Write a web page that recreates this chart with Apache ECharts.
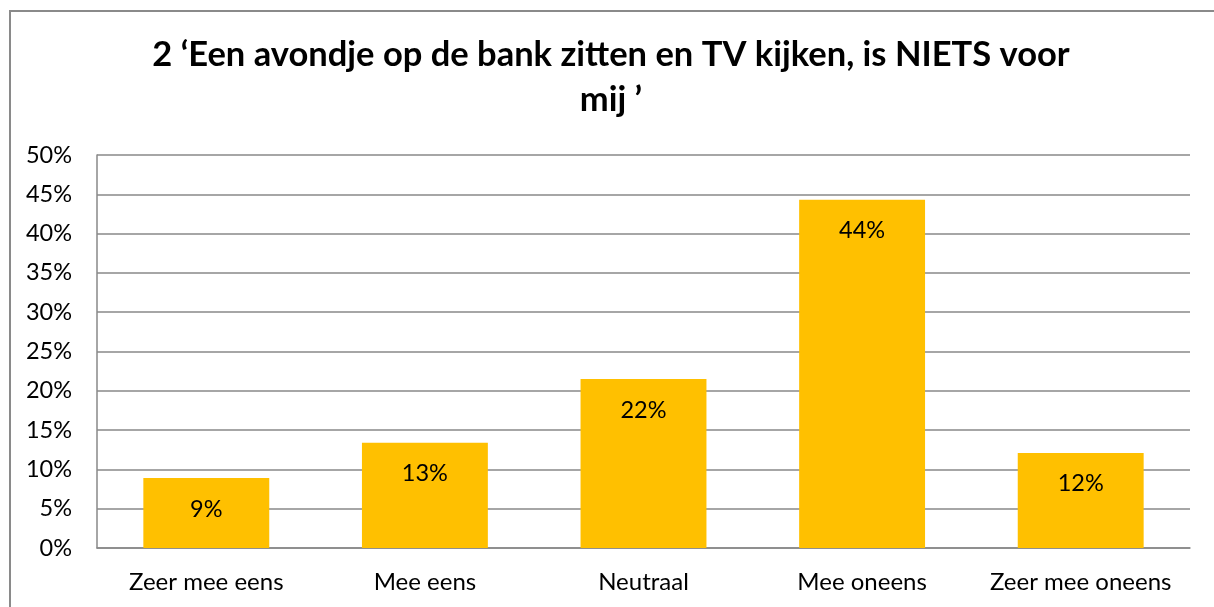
<!DOCTYPE html>
<html>
<head>
<meta charset="utf-8">
<script src="https://cdn.jsdelivr.net/npm/echarts@6/dist/echarts.min.js"></script>
<style>
html,body{margin:0;padding:0;background:#fff;}
#chart{width:1214px;height:607px;}
</style>
</head>
<body>
<div id="chart"></div>
<script>
const titleText = '2 \u2018Een avondje op de bank zitten en TV kijken, is NIETS voor\nmij \u2019';
const categories = ['Zeer mee eens', 'Mee eens', 'Neutraal', 'Mee oneens', 'Zeer mee oneens'];
const values = [8.9, 13.4, 21.5, 44.3, 12.1];
const labels = ['9%', '13%', '22%', '44%', '12%'];
const yTicks = [0, 5, 10, 15, 20, 25, 30, 35, 40, 45, 50];

const FONT = 'Lato';
const chart = echarts.init(document.getElementById('chart'), null, {renderer: 'canvas'});
chart.setOption({
  animation: false,
  backgroundColor: '#ffffff',
  graphic: [{
    type: 'rect',
    shape: {x: 10, y: 11, width: 1230, height: 640},
    style: {fill: 'none', stroke: '#8a8a8a', lineWidth: 2},
    silent: true
  }],
  title: {
    text: titleText,
    left: 606,
    textAlign: 'center',
    top: 27,
    textStyle: {fontFamily: FONT, fontWeight: 'bold', fontSize: 34.5, lineHeight: 45, color: '#000'}
  },
  grid: {left: 97, right: 24, top: 155, bottom: 59, containLabel: false},
  xAxis: {
    type: 'category',
    data: categories,
    axisLine: {lineStyle: {color: '#888', width: 1.5}},
    axisTick: {show: false},
    axisLabel: {fontFamily: FONT, fontSize: 24, color: '#000', margin: 22, interval: 0}
  },
  yAxis: {
    type: 'value',
    min: yTicks[0],
    max: yTicks[yTicks.length - 1],
    interval: 5,
    axisLine: {show: true, lineStyle: {color: '#888', width: 1.5}},
    axisTick: {show: false},
    splitLine: {lineStyle: {color: '#888', width: 1.5}},
    axisLabel: {fontFamily: FONT, fontSize: 23.5, color: '#000', margin: 25, formatter: v => v + '%'}
  },
  series: [{
    type: 'bar',
    data: values,
    barWidth: '57.6%',
    itemStyle: {color: '#FFC000'},
    label: {
      show: true,
      position: 'insideTop',
      distance: 19,
      fontFamily: FONT,
      fontSize: 23.5,
      color: '#000',
      formatter: p => labels[p.dataIndex]
    }
  }]
});
</script>
</body>
</html>
